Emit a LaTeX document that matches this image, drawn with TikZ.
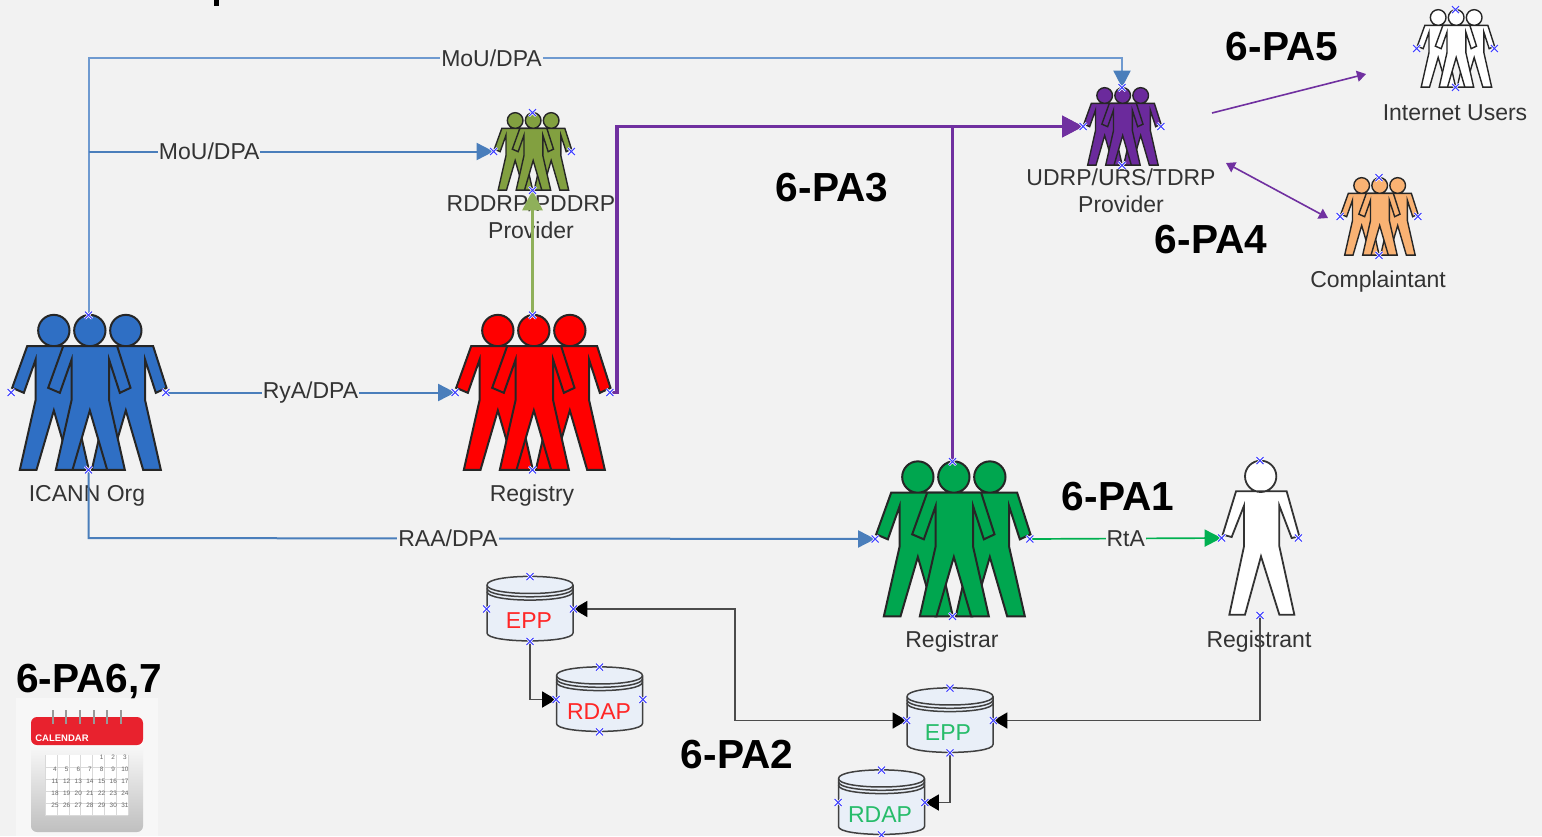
\documentclass[tikz,border=0pt]{standalone}
\usepackage{fontspec}
\setmainfont{Liberation Sans}
\usetikzlibrary{arrows.meta}
\definecolor{bgpage}{HTML}{F2F2F2}
\definecolor{linkblue}{HTML}{4A7EBB}
\definecolor{toplinkblue}{HTML}{6F9AD0}
\definecolor{icannblue}{HTML}{2F6FC4}
\definecolor{rddrpgreen}{HTML}{82A040}
\definecolor{linkolive}{HTML}{8FB05A}
\definecolor{regreen}{HTML}{00A64F}
\definecolor{linkgreen}{HTML}{00B050}
\definecolor{udrppurple}{HTML}{6B2A9C}
\definecolor{linkpurple}{HTML}{7030A0}
\definecolor{complorange}{HTML}{F9B273}
\definecolor{drumfill}{HTML}{E9EFF8}
\definecolor{textgrey}{HTML}{333333}
\definecolor{calred}{HTML}{E8222E}
\newcommand{\personat}[1]{\filldraw[shift={(#1,0)}] (0,-186) circle (47)
  (-80,-139) -- (82,-139) -- (122,-14) -- (90,1) -- (58,-98) -- (58,24) -- (105,232) -- (52,232) -- (0,54)
  -- (-52,232) -- (-102,232) -- (-55,24) -- (-55,-98) -- (-90,1) -- (-125,-14) -- cycle;}
\tikzset{
  pics/people/.style n args={3}{code={
    \begin{scope}[scale=#1,fill=#2,draw=black!85,line width=#3]
    \personat{-104}
    \personat{112}
    \personat{4}
    \end{scope}}},
  pics/oneperson/.style={code={
    \begin{scope}[scale=0.3333,fill=white,draw=black!80,line width=.9pt]
    \filldraw (2,-185) circle (47)
      (-72,-140) -- (80,-140) -- (118,-5) -- (95,0) -- (58,-97) -- (58,25) -- (103,230) -- (58,230) -- (3,55)
      -- (-45,230) -- (-92,230) -- (-48,25) -- (-48,-97) -- (-85,-3) -- (-112,-10) -- cycle;
    \end{scope}}},
  pics/drum/.style={code={
    \begin{scope}[fill=drumfill,draw=black!75,line width=.75pt]
    \filldraw (-43,-24) -- (-43,24) .. controls (-43,34.5) and (43,34.5) .. (43,24) -- (43,-24)
      .. controls (43,-35.5) and (-43,-35.5) .. cycle;
    \foreach \ringy in {-24,-20.7,-17.4}
      \draw (-43,\ringy) .. controls (-43,\ringy+11.3) and (43,\ringy+11.3) .. (43,\ringy);
    \end{scope}}}
}
\begin{document}
\begin{tikzpicture}[x=0.5pt,y=-0.5pt]
\tikzstyle{bigbox}=[rectangle,inner sep=0pt,minimum width=77pt,minimum height=77pt]
\tikzstyle{smallbox}=[rectangle,inner sep=0pt,minimum width=38.5pt,minimum height=38.5pt]
\tikzstyle{drumbox}=[rectangle,inner sep=0pt,minimum width=43pt,minimum height=32pt]
\tikzstyle{caption}=[text=textgrey,align=center,inner sep=0pt,font=\fontsize{11.5}{13.5}\selectfont]
\tikzstyle{linklabel}=[caption,fill=bgpage,inner xsep=.5pt,inner ysep=1pt]
\tikzstyle{drumtext}=[inner sep=0pt,font=\fontsize{11.5}{13.5}\selectfont]
\tikzstyle{palabel}=[inner sep=0pt,font=\fontsize{20.3}{24}\selectfont\bfseries]
\tikzstyle{bluelink}=[draw=linkblue,line width=1pt,-{Triangle[length=8.5pt,width=8.5pt]}]
\tikzstyle{purplelink}=[draw=linkpurple,line width=1.7pt,-{Triangle[length=10.5pt,width=10.5pt]}]
\tikzstyle{blacklink}=[draw=black!70,line width=.9pt,-{Triangle[length=7pt,width=8pt,color=black]}]
\tikzstyle{thinpurple}=[draw=linkpurple,line width=.8pt,-{Triangle[length=4.5pt,width=5.5pt]}]
\tikzstyle{crossmark}=[draw=blue!75!white,line width=.55pt]
\tikzstyle{crosshalo}=[draw=white,line width=1.2pt]

\path[use as bounding box,fill=bgpage] (0,0) rectangle (1542,836);
\fill[black] (214,0) rectangle (219,6);

\fill[white!97!black] (16,698) rectangle (158,836);
\shade[top color=white,bottom color=black!25,rounded corners=3pt] (31,735) rectangle (143,832);
\fill[calred,rounded corners=3pt] (31,717) -- (143,717) -- (143,745) -- (31,745) -- cycle;
\foreach \ringx in {53,66,80,94,107,121}
  \draw[black!40,line width=1pt] (\ringx,710) -- (\ringx,724);
\node[text=white,inner sep=0pt,font=\fontsize{4.75}{5}\selectfont\bfseries] (calendarhead) at (62,738) {CALENDAR};
\fill[white] (45,755) rectangle (128,815);
\foreach \gridx in {45,56.9,...,129}
  \draw[black!15,line width=.25pt] (\gridx,755) -- (\gridx,815);
\foreach \gridy in {767,779,...,815}
  \draw[black!15,line width=.25pt] (45,\gridy) -- (128,\gridy);
\foreach \day in {1,...,31}{
  \pgfmathtruncatemacro{\daycol}{mod(\day+3,7)}
  \pgfmathtruncatemacro{\dayrow}{(\day+3)/7}
  \node[text=black!60,inner sep=0pt,font=\fontsize{3.2}{4}\selectfont] (day\day) at (55+11.65*\daycol,757.7+12*\dayrow) {\day};
}

\pic at (88.5,392.5) {people={0.3333}{icannblue}{1pt}};
\pic at (532.5,392.5) {people={0.3333}{red}{1pt}};
\pic at (952.5,539) {people={0.3333}{regreen}{1pt}};
\pic at (532.5,151.5) {people={0.1667}{rddrpgreen}{.7pt}};
\pic at (1122,126.5) {people={0.1667}{udrppurple}{.7pt}};
\pic at (1455.5,48.5) {people={0.1667}{white}{.7pt}};
\pic at (1379,216.5) {people={0.1667}{complorange}{.7pt}};
\pic at (1260,538) {oneperson};
\pic at (530,609) {drum};
\pic at (599.5,699.5) {drum};
\pic at (950,720.5) {drum};
\pic at (881.5,802.5) {drum};

\node[bigbox] (icann) at (88.5,392.5) {};
\node[bigbox] (registry) at (532.5,392.5) {};
\node[bigbox] (registrar) at (952.5,539) {};
\node[rectangle,inner sep=0pt,minimum width=38pt,minimum height=77pt] (registrant) at (1260,538) {};
\node[smallbox] (rddrp) at (532.5,151.5) {};
\node[smallbox] (udrp) at (1122,126.5) {};
\node[smallbox] (users) at (1455.5,48.5) {};
\node[smallbox] (complaint) at (1379,216.5) {};
\node[drumbox] (epptop) at (530,609) {};
\node[drumbox] (rdaptop) at (599.5,699.5) {};
\node[drumbox] (eppreg) at (950,720.5) {};
\node[drumbox] (rdapreg) at (881.5,802.5) {};

\node[drumtext,text=red!85!white] (epptoptext) at (529,621) {EPP};
\node[drumtext,text=red!85!white] (rdaptoptext) at (599,712) {RDAP};
\node[drumtext,text=linkgreen!85!white] (eppregtext) at (948,733) {EPP};
\node[drumtext,text=linkgreen!85!white] (rdapregtext) at (880,815) {RDAP};

\node[caption] (icanncap) at (87,496) {ICANN Org};
\node[caption] (registrycap) at (532,496) {Registry};
\node[caption] (registrarcap) at (952,642) {Registrar};
\node[caption] (registrantcap) at (1259,642) {Registrant};
\node[caption] (rddrpcap) at (531,217) {RDDRP/PDDRP\\Provider};
\node[caption] (udrpcap) at (1121,191) {UDRP/URS/TDRP\\Provider};
\node[caption] (userscap) at (1455,113) {Internet Users};
\node[caption] (complaintcap) at (1378,282) {Complaintant};

\node[palabel] (pafive) at (1282,47) {6-PA5};
\node[palabel] (pathree) at (832,188) {6-PA3};
\node[palabel] (pafour) at (1211,240) {6-PA4};
\node[palabel] (paone) at (1118,497) {6-PA1};
\node[palabel] (patwo) at (737,755) {6-PA2};
\node[palabel] (pasix) at (89,681) {6-PA6,7};

\coordinate (mouleft) at (88.5,58);
\coordinate (mouright) at (1122,58);
\coordinate (moubranch) at (88.5,151.5);
\coordinate (raacorner) at (88.5,538);
\coordinate (stemlow) at (617,392.5);
\coordinate (stemtop) at (617,126.5);
\coordinate (bendtop) at (735,609);
\coordinate (bendlow) at (735,720.5);
\coordinate (fivefrom) at (1212,113);
\coordinate (fiveto) at (1366,74);
\coordinate (fourfrom) at (1226,163);
\coordinate (fourto) at (1328,218);

\draw[bluelink,draw=toplinkblue,-{Triangle[length=8.5pt,width=8.5pt,color=linkblue]}] (icann.north) -- (mouleft) -- node[linklabel,pos=.39] (moutop) {MoU/DPA} (mouright) -- (udrp.north);
\draw[bluelink] (moubranch) -- node[linklabel,pos=.298] (moumid) {MoU/DPA} (rddrp.west);
\draw[bluelink] (icann.east) -- node[linklabel] (rya) {RyA/DPA} (registry.west);
\draw[bluelink] (icann.south) -- (raacorner) -- node[linklabel,pos=.457] (raa) {RAA/DPA} (registrar.west);
\draw[draw=linkolive,line width=1.6pt,-{Triangle[length=10pt,width=10pt]}] (registry.north) -- (rddrp.south);
\draw[purplelink] (registry.east) -- (stemlow) -- (stemtop) -- (udrp.west);
\draw[purplelink] (registrar.north) |- (udrp.west);
\draw[draw=linkgreen,line width=.85pt,-{Triangle[length=8.5pt,width=8.5pt]}] (registrar.east) -- node[linklabel] (rta) {RtA} (registrant.west);
\draw[blacklink] (registrant.south) |- (eppreg.east);
\draw[blacklink,{Triangle[length=7pt,width=8pt,color=black]}-{Triangle[length=7pt,width=8pt,color=black]}] (epptop.east) -- (bendtop) -- (bendlow) -- (eppreg.west);
\draw[blacklink] (epptop.south) |- (rdaptop.west);
\draw[blacklink] (eppreg.south) |- (rdapreg.east);
\draw[thinpurple] (fivefrom) -- (fiveto);
\draw[thinpurple,{Triangle[length=4.5pt,width=5.5pt]}-{Triangle[length=4.5pt,width=5.5pt]}] (fourfrom) -- (fourto);

\foreach \boxname in {icann,registry,registrar,registrant,rddrp,udrp,users,complaint,epptop,rdaptop,eppreg,rdapreg}
  \foreach \side in {north,south,east,west}{
    \draw[crosshalo] (\boxname.\side) ++(-3.5,-3.5) -- ++(7,7) ++(-7,0) -- ++(7,-7);
    \draw[crossmark] (\boxname.\side) ++(-3.5,-3.5) -- ++(7,7) ++(-7,0) -- ++(7,-7);
  }
\end{tikzpicture}
\end{document}
